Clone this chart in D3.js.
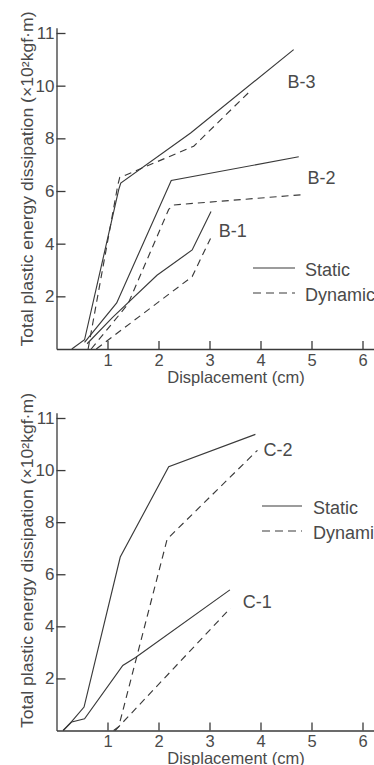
<!DOCTYPE html>
<html>
<head>
<meta charset="utf-8">
<script src="https://cdn.jsdelivr.net/npm/d3@7"></script>
<style>
  body { margin: 0; background: #fff; }
  svg { display: block; }
  text { font-family: "Liberation Sans", Arial, sans-serif; fill: #4a4a4a; }
  .axis path, .axis line { stroke: #3a3a3a; stroke-width: 1.3; }
  .curve { fill: none; stroke: #3a3a3a; stroke-width: 1.15; }
</style>
</head>
<body>
<div id="viz"></div>
<script>
// tick values (the top tick sits at 12 on the scale but is printed "11")
var xTickValues = [1, 2, 3, 4, 5, 6];
var yTickValues = [2, 4, 6, 8, 10, 12];
var yTickLabels = ["2", "4", "6", "8", "10", "11"];

// panel B, [displacement cm, energy x10^2 kgf.m]
var b3Static  = [[0.3,0],[0.55,0.35],[1.22,6.05],[1.26,6.3],[2.63,8.2],[4.65,11.37]];
var b3Dynamic = [[0.62,0],[1.2,6.2],[1.24,6.52],[1.35,6.6],[2.69,7.7],[3.8,9.8]];
var b2Static  = [[0.55,0.25],[1.18,1.75],[2.25,6.4],[4.75,7.3]];
var b2Dynamic = [[0.68,0],[1.4,1.7],[2.2,5.3],[2.3,5.47],[4.82,5.86]];
var b1Static  = [[0.6,0.2],[1.1,1.2],[1.97,2.8],[2.66,3.76],[3.03,5.22]];
var b1Dynamic = [[0.78,0],[2.66,2.75],[3.02,4.2]];

// panel C
var c2Static  = [[0.13,0],[0.3,0.35],[0.54,0.9],[1.25,6.66],[2.2,10.13],[3.9,11.37]];
var c2Dynamic = [[1.12,0],[1.22,0.15],[2.17,7.35],[3.94,10.76]];
var c1Static  = [[0.13,0],[0.3,0.33],[0.55,0.45],[1.3,2.5],[1.55,2.8],[3.4,5.4]];
var c1Dynamic = [[1.15,0],[3.41,4.7]];

var svg = d3.select('#viz').append('svg')
            .attr('width', 374)
            .attr('height', 765);

var x = d3.scaleLinear().domain([0, 6.4]).range([56.5, 56.5 + 6.4*51]);

var drawPanel = function(bottom, top, series, labels, legendAt) {
  var y = d3.scaleLinear().domain([0, 12]).range([bottom, top]);
  var yAxisScale = y.copy().domain([0, 12.2]).range([bottom, y(12.2)]);
  var g = svg.append('g');

  g.append('g')
   .attr('class', 'axis')
   .attr('transform', 'translate(0,' + bottom + ')')
   .call(d3.axisBottom(x).tickValues(xTickValues).tickFormat(d3.format('d'))
           .tickSizeInner(-8).tickSizeOuter(0).tickPadding(5))
   .call(function(a) {
     a.selectAll('text').attr('font-size', 16.5).attr('dy', '0.71em').style('fill', '#4a4a4a');
   });

  g.append('g')
   .attr('class', 'axis')
   .attr('transform', 'translate(' + x(0) + ',0)')
   .call(d3.axisLeft(yAxisScale).tickValues(yTickValues)
           .tickFormat(function(d, i) { return yTickLabels[i]; })
           .tickSizeInner(-9).tickSizeOuter(0).tickPadding(2))
   .call(function(a) {
     a.selectAll('text').attr('font-size', 17).style('fill', '#4a4a4a');
   });

  var line = d3.line()
               .x(function(d) { return x(d[0]); })
               .y(function(d) { return y(d[1]); });

  series.forEach(function(s) {
    g.append('path')
     .datum(s.data)
     .attr('class', 'curve')
     .attr('stroke-dasharray', s.dashed ? '7,5' : null)
     .attr('d', line);
  });

  labels.forEach(function(l) {
    g.append('text')
     .attr('x', x(l.x)).attr('y', y(l.y))
     .attr('dy', '0.35em')
     .attr('font-size', 18)
     .text(l.text);
  });

  // legend
  [['Static', null], ['Dynamic', '8,5']].forEach(function(item, i) {
    var ly = legendAt.y + i*25;
    g.append('line')
     .attr('class', 'curve')
     .attr('x1', legendAt.x1).attr('x2', legendAt.x2)
     .attr('y1', ly).attr('y2', ly)
     .attr('stroke-dasharray', item[1]);
    g.append('text')
     .attr('x', legendAt.tx).attr('y', ly + 2)
     .attr('dy', '0.35em')
     .attr('font-size', 18)
     .text(item[0]);
  });

  g.append('text')
   .attr('x', 236).attr('y', bottom + 33.5)
   .attr('text-anchor', 'middle')
   .attr('font-size', 16.5)
   .text('Displacement (cm)');

  g.append('text')
   .attr('transform', 'translate(27,' + (bottom - 170) + ') rotate(-90)')
   .attr('text-anchor', 'middle')
   .attr('dy', '0.35em')
   .attr('font-size', 16)
   .attr('textLength', 335)
   .attr('lengthAdjust', 'spacingAndGlyphs')
   .text('Total plastic energy dissipation (×10²kgf·m)');
};

drawPanel(349, 33,
  [{data: b3Static}, {data: b3Dynamic, dashed: true},
   {data: b2Static}, {data: b2Dynamic, dashed: true},
   {data: b1Static}, {data: b1Dynamic, dashed: true}],
  [{text: 'B-3', x: 4.53, y: 10.14},
   {text: 'B-2', x: 4.92, y: 6.5},
   {text: 'B-1', x: 3.18, y: 4.5}],
  {x1: 253, x2: 295, tx: 305, y: 268});

drawPanel(730.5, 418,
  [{data: c2Static}, {data: c2Dynamic, dashed: true},
   {data: c1Static}, {data: c1Dynamic, dashed: true}],
  [{text: 'C-2', x: 4.06, y: 10.8},
   {text: 'C-1', x: 3.65, y: 4.94}],
  {x1: 262, x2: 302, tx: 313, y: 506});
</script>
</body>
</html>
